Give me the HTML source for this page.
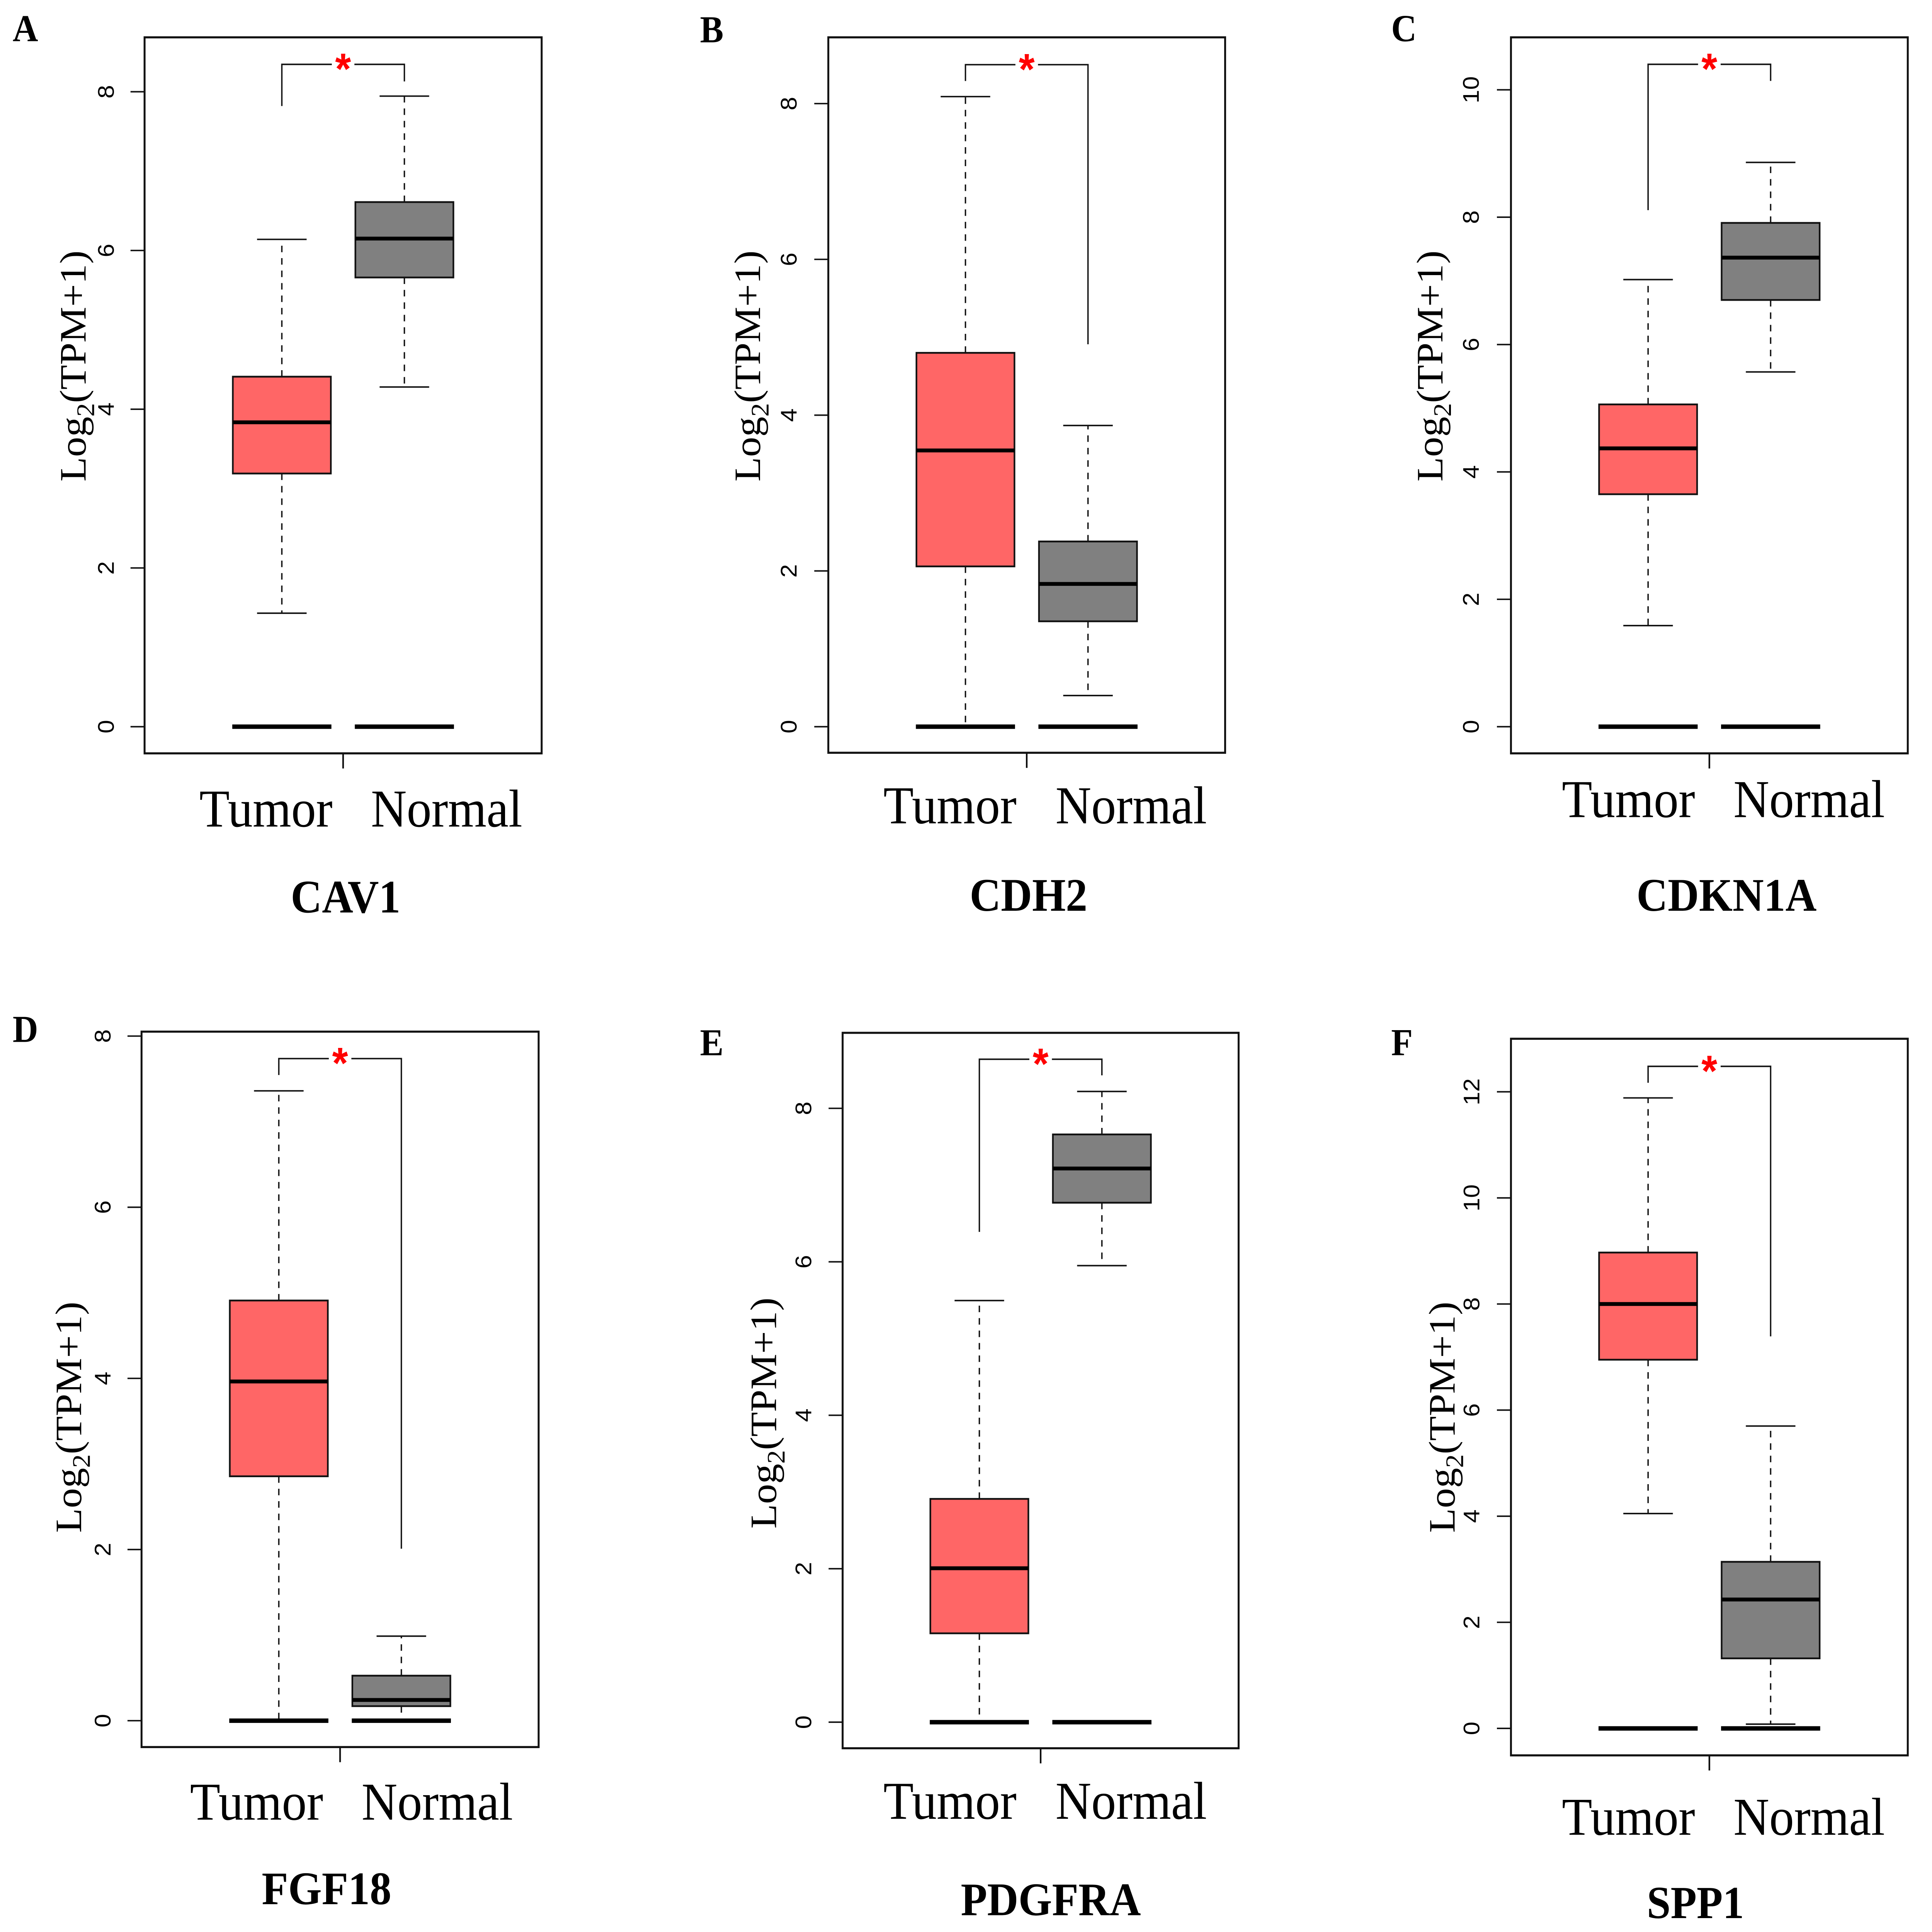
<!DOCTYPE html>
<html lang="en">
<head>
<meta charset="utf-8">
<title>Tumor vs Normal expression boxplots</title>
<style>
html,body{margin:0;padding:0;background:#fff;width:100%;height:100%;overflow:hidden;}
svg{display:block;width:100vw;height:100vh;}
</style>
</head>
<body>
<svg id="figure" xmlns="http://www.w3.org/2000/svg" viewBox="0 0 7016 6519" preserveAspectRatio="none"></svg>
<script>
// Values are [lowerWhisker, q1, median, q3, upperWhisker]
const cav1Tumor = [1.43, 3.19, 3.835, 4.41, 6.14];
const cav1Normal = [4.28, 5.66, 6.15, 6.61, 7.945];
const cdh2Tumor = [0, 2.058, 3.547, 4.80, 8.09];
const cdh2Normal = [0.40, 1.353, 1.833, 2.378, 3.867];
const cdkn1aTumor = [1.587, 3.65, 4.37, 5.06, 7.02];
const cdkn1aNormal = [5.57, 6.70, 7.365, 7.91, 8.86];
const fgf18Tumor = [0, 2.856, 3.964, 4.91, 7.36];
const fgf18Normal = [0, 0.17, 0.242, 0.526, 0.988];
const pdgfraTumor = [0, 1.158, 2.006, 2.91, 5.495];
const pdgfraNormal = [5.95, 6.77, 7.216, 7.66, 8.22];
const spp1Tumor = [4.05, 6.95, 8.0, 8.97, 11.885];
const spp1Normal = [0.08, 1.32, 2.43, 3.14, 5.70];

// Bracket values are [top, leftEnd, rightEnd]
const cav1Bracket = [8.345, 7.82, 8.13];
const cdh2Bracket = [8.50, 8.29, 4.91];
const cdkn1aBracket = [10.40, 8.11, 10.14];
const fgf18Bracket = [7.737, 7.545, 2.01];
const pdgfraBracket = [8.64, 6.39, 8.43];
const spp1Bracket = [12.48, 12.17, 7.39];

const ticks8 = [0, 2, 4, 6, 8];
const ticks10 = [0, 2, 4, 6, 8, 10];
const ticks12 = [0, 2, 4, 6, 8, 10, 12];

const groups = ['Tumor', 'Normal'];
const zeroMedians = [0, 0];
const genes = ['CAV1', 'CDH2', 'CDKN1A', 'FGF18', 'PDGFRA', 'SPP1'];
const panelLetters = ['A', 'B', 'C', 'D', 'E', 'F'];
const tumorSeries = [cav1Tumor, cdh2Tumor, cdkn1aTumor, fgf18Tumor, pdgfraTumor, spp1Tumor];
const normalSeries = [cav1Normal, cdh2Normal, cdkn1aNormal, fgf18Normal, pdgfraNormal, spp1Normal];
const brackets = [cav1Bracket, cdh2Bracket, cdkn1aBracket, fgf18Bracket, pdgfraBracket, spp1Bracket];
const tickSets = [ticks8, ticks8, ticks10, ticks8, ticks8, ticks12];

const layouts = [
  {x0:525, x1:1967, y0:126, y1:2542, zero:2452, unit:267.8, tickX:413, yLabX:311, yLabY:1625, tumorX:724, normalX:1347, labY:2789, titleCx:1255, titleY:3079, titleSize:157, letterX:46, letterY:139},
  {x0:3008, x1:4449, y0:126, y1:2540, zero:2452, unit:262.8, tickX:2893, yLabX:2760, yLabY:1625, tumorX:3208, normalX:3833, labY:2778, titleCx:3735, titleY:3073, titleSize:157, letterX:2542, letterY:143},
  {x0:5487, x1:6928, y0:126, y1:2542, zero:2452, unit:214.9, tickX:5370, yLabX:5238, yLabY:1625, tumorX:5672, normalX:6295, labY:2757, titleCx:6270, titleY:3073, titleSize:157, letterX:5052, letterY:139},
  {x0:514, x1:1956, y0:3481, y1:5895, zero:5806, unit:288.75, tickX:401, yLabX:295, yLabY:5172, tumorX:690, normalX:1313, labY:6140, titleCx:1186, titleY:6425, titleSize:157, letterX:46, letterY:3516},
  {x0:3060, x1:4498, y0:3485, y1:5899, zero:5811, unit:258.9, tickX:2946, yLabX:2818, yLabY:5158, tumorX:3208, normalX:3833, labY:6137, titleCx:3816, titleY:6462, titleSize:157, letterX:2542, letterY:3561},
  {x0:5487, x1:6928, y0:3505, y1:5923, zero:5832, unit:179, tickX:5372, yLabX:5282, yLabY:5172, tumorX:5672, normalX:6295, labY:6191, titleCx:6157, titleY:6472, titleSize:155, letterX:5052, letterY:3561}
];

const SVGNS = 'http://www.w3.org/2000/svg';
const SERIF = '"Liberation Serif", serif';
const SANS = '"Liberation Sans", sans-serif';
const INK = '#111';
const BOX_SPACING = 445;
const BOX_HALF = 178;
const CAP_HALF = 90;

function mk(tag, name, attrs, parent, text) {
  const el = document.createElementNS(SVGNS, tag);
  
  
  for (const k in attrs) el.setAttribute(k, attrs[k]);
  if (text !== undefined) el.textContent = text;
  parent.appendChild(el);
  return el;
}

function line(name, x1, y1, x2, y2, w, parent, extra) {
  return mk('line', name, Object.assign({x1, y1, x2, y2, stroke: INK, 'stroke-width': w}, extra || {}), parent);
}

function drawBox(g, values, group, cx, yScale, fill, zeroValue) {
  const [lo, q1, med, q3, hi] = values;
  const key = group.toLowerCase();
  const dash = {'stroke-dasharray': '22 20'};
  line(key + '-upper-whisker', cx, yScale(q3), cx, yScale(hi), 5, g, dash);
  line(key + '-lower-whisker', cx, yScale(q1), cx, yScale(lo), 5, g, dash);
  line(key + '-upper-cap', cx - CAP_HALF, yScale(hi), cx + CAP_HALF, yScale(hi), 5, g);
  line(key + '-lower-cap', cx - CAP_HALF, yScale(lo), cx + CAP_HALF, yScale(lo), 5, g);
  mk('rect', key + '-box', {
    x: cx - BOX_HALF, y: yScale(q3), width: BOX_HALF * 2, height: yScale(q1) - yScale(q3),
    fill: fill, stroke: INK, 'stroke-width': 6
  }, g);
  line(key + '-median', cx - BOX_HALF, yScale(med), cx + BOX_HALF, yScale(med), 13, g, {stroke: '#000'});
  line(key + '-zero-line', cx - BOX_HALF - 2, yScale(zeroValue), cx + BOX_HALF + 2, yScale(zeroValue), 15, g, {stroke: '#000'});
}

function drawPanel(i, root) {
  const L = layouts[i];
  const g = mk('g', 'panel-' + genes[i].toLowerCase(), {}, root);
  const yScale = v => L.zero - v * L.unit;
  const mid = (L.x0 + L.x1) / 2;
  const xScale = idx => mid + (idx - 0.5) * BOX_SPACING;

  mk('text', 'panel-letter', {x: L.letterX, y: L.letterY, 'font-family': SERIF, 'font-weight': 'bold', 'font-size': 128, fill: '#000'}, g, panelLetters[i]);

  tickSets[i].forEach(t => {
    const y = yScale(t);
    line('y-tick-' + t, L.x0 - 51, y, L.x0, y, 5, g);
    mk('text', 'y-tick-label-' + t, {
      transform: 'translate(' + L.tickX + ' ' + y + ') rotate(-90)',
      'text-anchor': 'middle', 'font-family': SANS, 'font-size': 82, fill: '#000'
    }, g, String(t));
  });

  const yl = mk('text', 'y-axis-title', {
    transform: 'translate(' + L.yLabX + ' ' + L.yLabY + ') rotate(-90)',
    'font-family': SERIF, 'font-size': 136, fill: '#000'
  }, g);
  yl.appendChild(document.createTextNode('Log'));
  const sub = document.createElementNS(SVGNS, 'tspan');
  sub.setAttribute('font-size', '92');
  sub.setAttribute('dy', '31');
  sub.textContent = '2';
  yl.appendChild(sub);
  const rest = document.createElementNS(SVGNS, 'tspan');
  rest.setAttribute('dy', '-31');
  rest.textContent = '(TPM+1)';
  yl.appendChild(rest);

  drawBox(g, tumorSeries[i], groups[0], xScale(0), yScale, '#ff6666', zeroMedians[0]);
  drawBox(g, normalSeries[i], groups[1], xScale(1), yScale, '#808080', zeroMedians[1]);

  const [bTop, bLeft, bRight] = brackets[i];
  const by = yScale(bTop);
  const d1 = 'M' + xScale(0) + ' ' + yScale(bLeft) + 'V' + by + 'H' + (mid - 41);
  const d2 = 'M' + (mid + 41) + ' ' + by + 'H' + xScale(1) + 'V' + yScale(bRight);
  mk('path', 'significance-bracket-left', {d: d1, fill: 'none', stroke: INK, 'stroke-width': 5}, g);
  mk('path', 'significance-bracket-right', {d: d2, fill: 'none', stroke: INK, 'stroke-width': 5}, g);
  mk('text', 'significance-star', {
    x: mid, y: by + 66, 'text-anchor': 'middle', 'font-family': SANS,
    'font-weight': 'bold', 'font-size': 148, fill: '#ff0000'
  }, g, '*');

  mk('rect', 'plot-frame', {
    x: L.x0, y: L.y0, width: L.x1 - L.x0, height: L.y1 - L.y0,
    fill: 'none', stroke: '#111', 'stroke-width': 7
  }, g);
  line('x-tick', mid, L.y1, mid, L.y1 + 51, 6, g);

  mk('text', 'x-label-tumor', {x: L.tumorX, y: L.labY, 'font-family': SERIF, 'font-size': 180, fill: '#000'}, g, groups[0]);
  mk('text', 'x-label-normal', {x: L.normalX, y: L.labY, 'font-family': SERIF, 'font-size': 180, fill: '#000'}, g, groups[1]);
  mk('text', 'gene-title', {
    x: L.titleCx, y: L.titleY, 'text-anchor': 'middle', 'font-family': SERIF,
    'font-weight': 'bold', 'font-size': L.titleSize, fill: '#000'
  }, g, genes[i]);
}

const svgRoot = document.getElementById('figure');
genes.forEach((_, i) => drawPanel(i, svgRoot));
</script>
</body>
</html>
